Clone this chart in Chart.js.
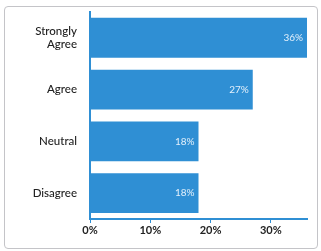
<!DOCTYPE html>
<html>
<head>
<meta charset="utf-8">
<script src="https://cdn.jsdelivr.net/npm/chart.js@4"></script>
<style>
  html, body { margin: 0; padding: 0; background: #fff; }
  #frame { position: absolute; left: 4px; top: 6px; width: 312px; height: 241px;
           border: 1px solid #c4c4c8; border-radius: 4px; }
  #wrap { position: absolute; left: 0; top: 0; width: 321px; height: 251px; }
</style>
</head>
<body>
<div id="frame"></div>
<div id="wrap"><canvas id="chart" width="321" height="251"></canvas></div>
<script>
// categories and values
const categories = [['Strongly', 'Agree'], 'Agree', 'Neutral', 'Disagree'];
const shares = [36, 27, 18, 18];
const tickValues = [0, 10, 20, 30];

const BLUE = '#2f8fd4';

// labels inside the bar ends
const barLabels = {
  id: 'barLabels',
  afterDatasetsDraw(chart) {
    const ctx = chart.ctx;
    const meta = chart.getDatasetMeta(0);
    ctx.save();
    ctx.font = '10px Lato, sans-serif';
    ctx.fillStyle = '#e3f0fb';
    ctx.textAlign = 'right';
    ctx.textBaseline = 'middle';
    meta.data.forEach((bar, i) => {
      ctx.fillText(shares[i] + '%', bar.x - 4, bar.y);
    });
    ctx.restore();
  }
};

new Chart(document.getElementById('chart'), {
  type: 'bar',
  data: {
    labels: categories,
    datasets: [{ data: shares, backgroundColor: BLUE, barPercentage: 0.77, categoryPercentage: 1 }]
  },
  options: {
    indexAxis: 'y',
    responsive: false,
    animation: false,
    layout: { padding: { top: 9, right: 14, bottom: 0, left: 6 } },
    plugins: { legend: { display: false }, tooltip: { enabled: false } },
    scales: {
      x: {
        min: 0, max: 36,
        afterBuildTicks: s => { s.ticks = tickValues.map(v => ({ value: v })); },
        afterFit: s => { s.height = 32; },
        grid: { display: true, drawOnChartArea: false, drawTicks: true, tickLength: 4, color: BLUE },
        border: { display: true, color: BLUE, width: 2 },
        ticks: { callback: v => v + '%', color: '#222', font: { family: 'Lato', size: 11, weight: 'bold' }, padding: 1, maxRotation: 0 }
      },
      y: {
        afterFit: s => { s.width = 84; },
        grid: { display: false },
        border: { display: true, color: BLUE, width: 2 },
        ticks: { color: '#222', font: { family: 'Lato', size: 11.5, weight: '500' }, padding: 5 }
      }
    }
  },
  plugins: [barLabels]
});
</script>
</body>
</html>
